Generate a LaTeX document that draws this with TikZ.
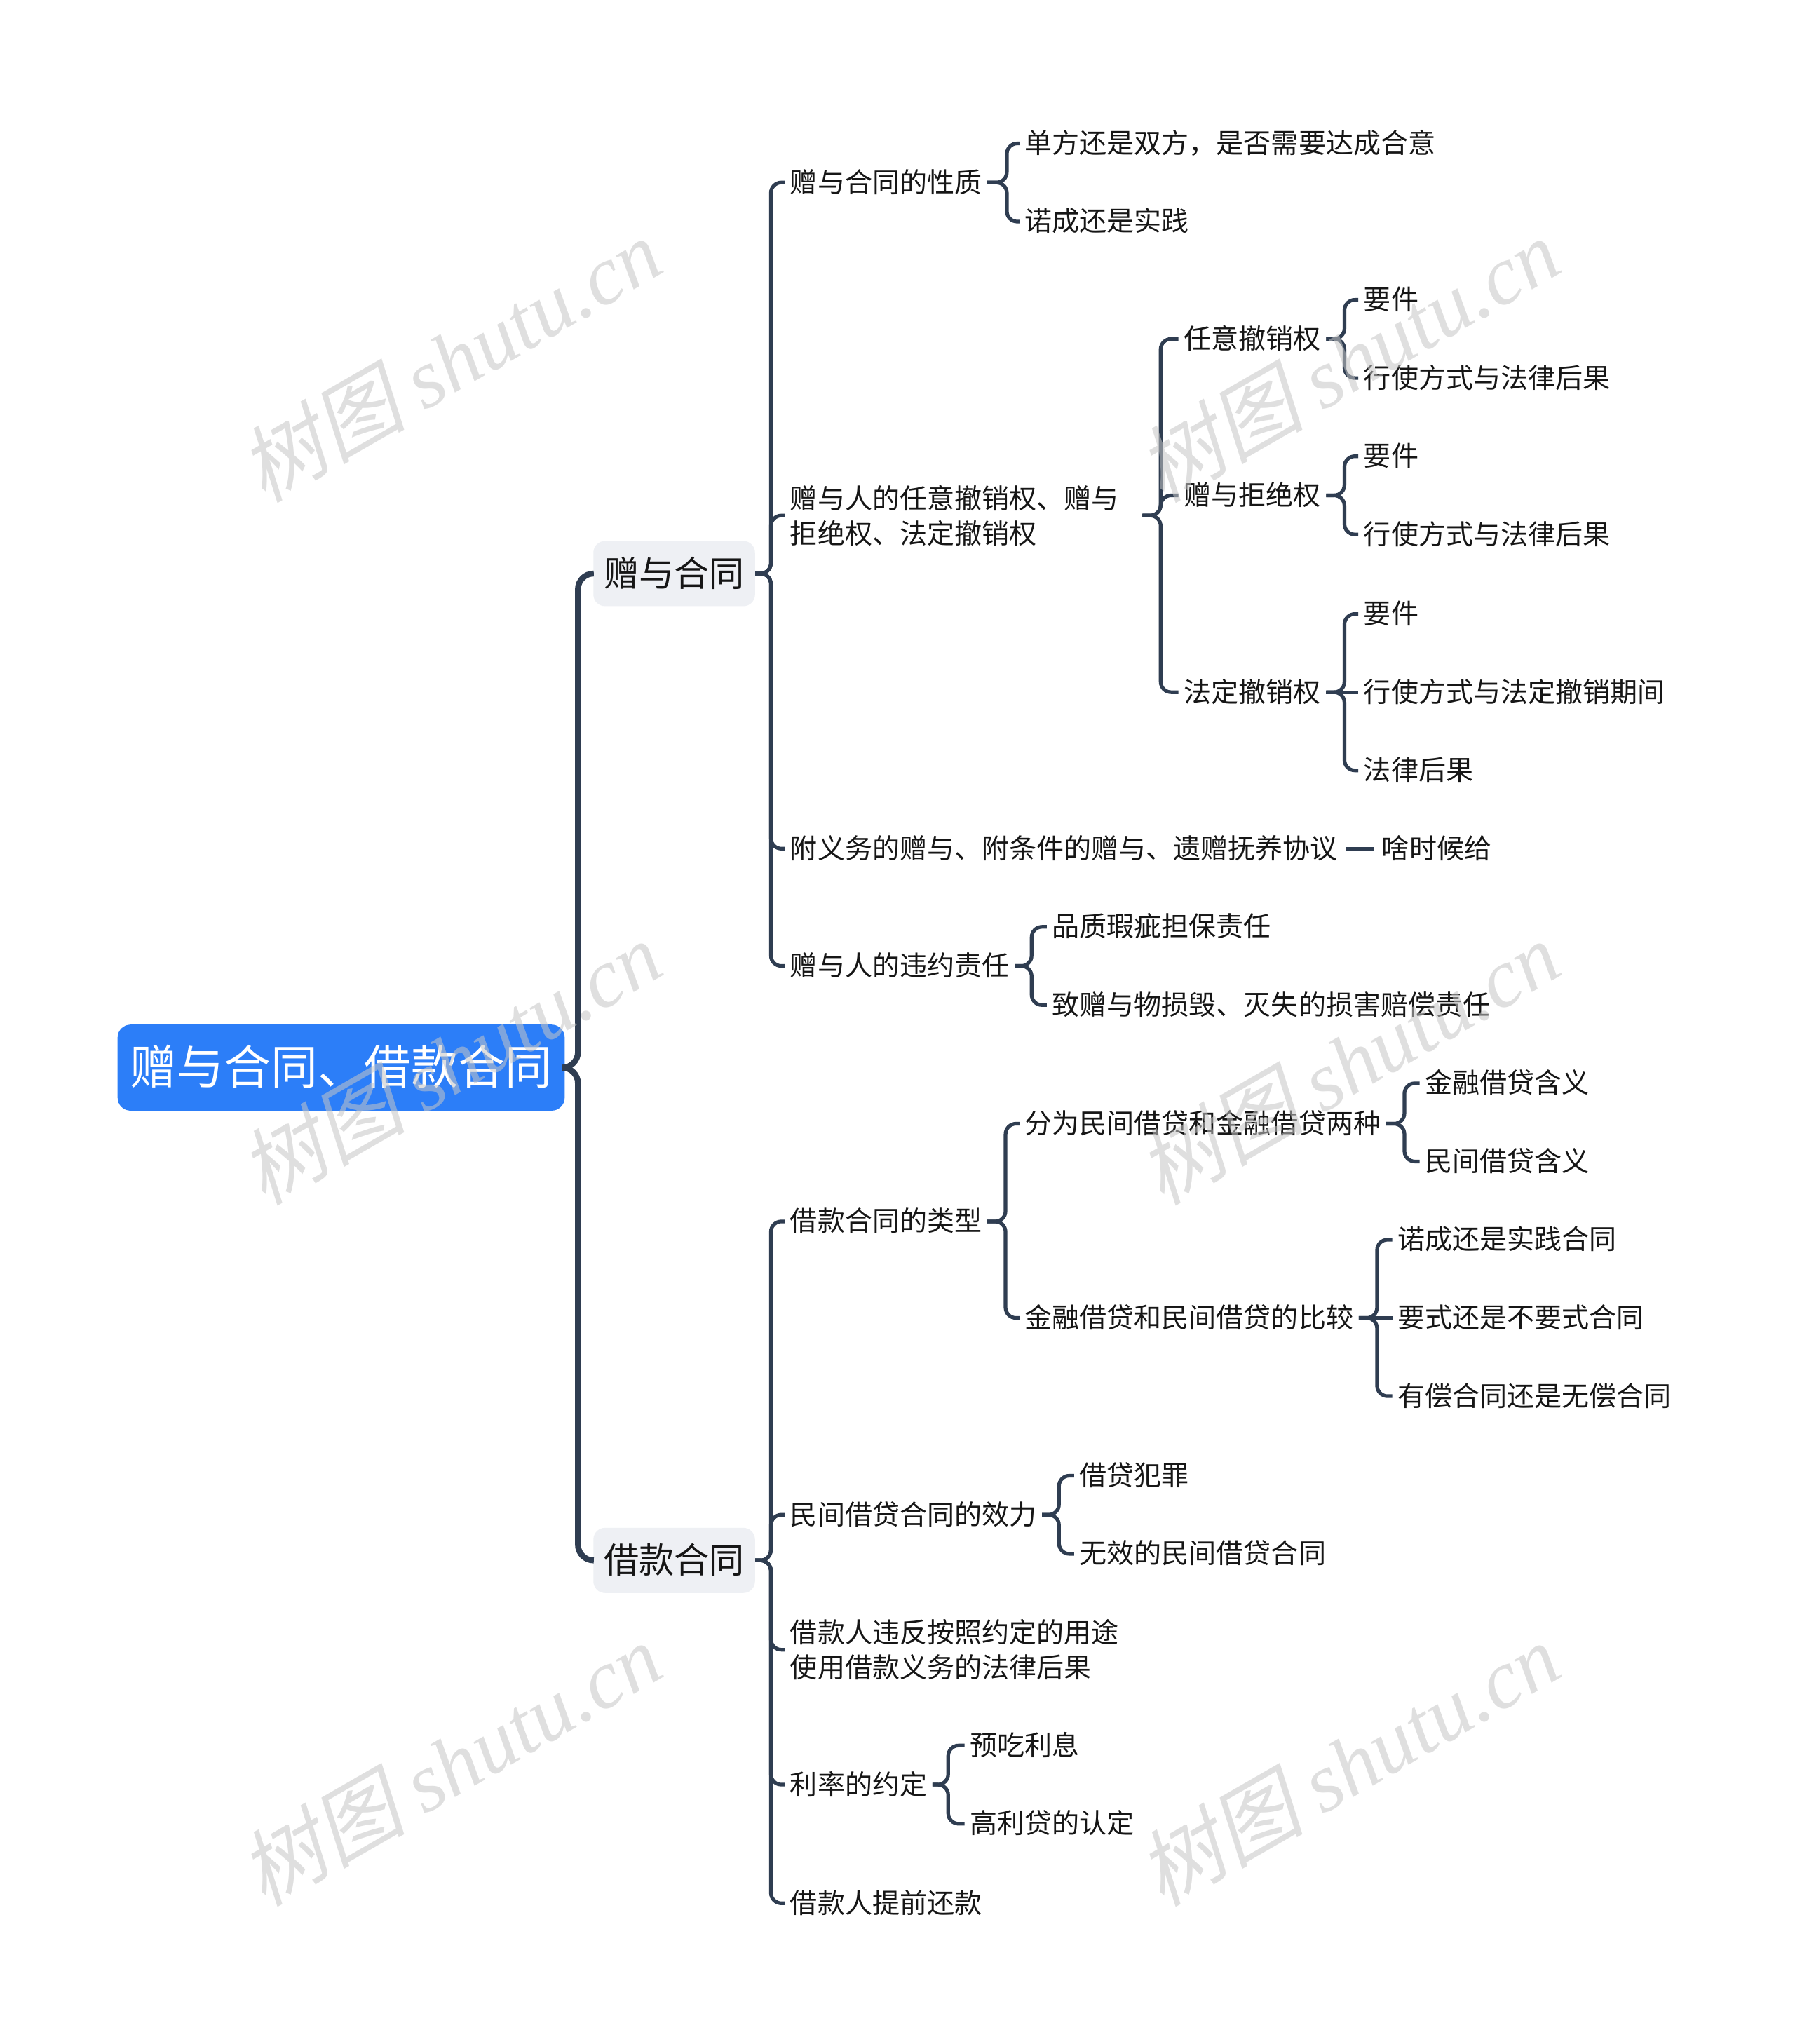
\documentclass[tikz,border=0pt]{standalone}
\usepackage{fontspec}
\setmainfont{Noto Sans CJK SC}
\newfontfamily\cjk{Noto Sans CJK SC}
\newfontfamily\wmcjk[FakeSlant=0.22]{Noto Sans CJK SC}
\newfontfamily\wmlat{Liberation Serif}
\definecolor{rootblue}{HTML}{2C7EF8}
\definecolor{lonefill}{HTML}{EEF0F4}
\definecolor{lnc}{HTML}{2F3D51}
\definecolor{txt}{HTML}{161616}
\newcommand\mmconn[3]{\draw[ln] (#1.east) -- ++(#3,0) |- (#2.west);}
\begin{document}
\begin{tikzpicture}[x=1pt,y=-1pt,
  t/.style={anchor=west, inner xsep=4pt, inner ysep=1pt, text=txt,
    font=\cjk\fontsize{21}{27}\selectfont, text height=17pt, text depth=2pt},
  tm/.style={anchor=west, inner xsep=4pt, inner ysep=1pt, text=txt, align=left,
    font=\cjk\fontsize{21}{27}\selectfont},
  rootnode/.style={anchor=west, fill=rootblue, text=white, rounded corners=10pt,
    font=\cjk\fontsize{36}{40}\selectfont, minimum height=66pt, inner xsep=9.5pt,
    text height=29pt, text depth=3pt},
  lone/.style={anchor=west, fill=lonefill, text=txt, rounded corners=9pt,
    font=\cjk\fontsize{27}{32}\selectfont, minimum height=50pt, inner xsep=8pt,
    text height=22pt, text depth=2pt},
  ln/.style={draw=lnc, line width=2.8pt, rounded corners=8pt},
  rootln/.style={draw=lnc, line width=4.5pt, rounded corners=12pt},
  wm/.style={text=gray!45, opacity=0.55, rotate=30, inner sep=0pt}
]
\useasboundingbox (0,0) rectangle (1377,1568);
\fill[white] (0,0) rectangle (1377,1568);

% root and level 1
\node[rootnode] (root) at (90,819) {赠与合同、借款合同};
\node[lone] (A) at (455,440) {赠与合同};
\node[lone] (B) at (455,1197) {借款合同};
\draw[rootln] (root.east) -- ++(10,0) |- (A.west);
\draw[rootln] (root.east) -- ++(10,0) |- (B.west);

% ---- 赠与合同 ----
\node[t] (a1) at (602,140) {赠与合同的性质};
\node[tm, text width=266pt] (a2) at (602,395.5) {赠与人的任意撤销权、赠与\\拒绝权、法定撤销权};
\node[t] (a3) at (602,651) {附义务的赠与、附条件的赠与、遗赠抚养协议};
\node[t] (a4) at (602,741) {赠与人的违约责任};
\mmconn{A}{a1}{12}
\mmconn{A}{a2}{12}
\mmconn{A}{a3}{12}
\mmconn{A}{a4}{12}

\node[t] (a11) at (782,110) {单方还是双方，是否需要达成合意};
\node[t] (a12) at (782,170) {诺成还是实践};
\mmconn{a1}{a11}{15}
\mmconn{a1}{a12}{15}

\node[t] (a21) at (904,260) {任意撤销权};
\node[t] (a22) at (904,380) {赠与拒绝权};
\node[t] (a23) at (904,531) {法定撤销权};
\mmconn{a2}{a21}{14}
\mmconn{a2}{a22}{14}
\mmconn{a2}{a23}{14}

\node[t] (a211) at (1042,230) {要件};
\node[t] (a212) at (1042,290) {行使方式与法律后果};
\mmconn{a21}{a211}{14}
\mmconn{a21}{a212}{14}

\node[t] (a221) at (1042,350) {要件};
\node[t] (a222) at (1042,410) {行使方式与法律后果};
\mmconn{a22}{a221}{14}
\mmconn{a22}{a222}{14}

\node[t] (a231) at (1042,471) {要件};
\node[t] (a232) at (1042,531) {行使方式与法定撤销期间};
\node[t] (a233) at (1042,591) {法律后果};
\mmconn{a23}{a231}{14}
\draw[ln] (a23.east) -- (a232.west);
\mmconn{a23}{a233}{14}

\node[t] (a31) at (1056,651) {啥时候给};
\draw[ln] ([xshift=2pt]a3.east) -- ([xshift=-2pt]a31.west);

\node[t] (a41) at (803,711) {品质瑕疵担保责任};
\node[t] (a42) at (803,771) {致赠与物损毁、灭失的损害赔偿责任};
\mmconn{a4}{a41}{13}
\mmconn{a4}{a42}{13}

% ---- 借款合同 ----
\node[t] (b1) at (602,937) {借款合同的类型};
\node[t] (b2) at (602,1162) {民间借贷合同的效力};
\node[tm] (b3) at (602,1265.5) {借款人违反按照约定的用途\\使用借款义务的法律后果};
\node[t] (b4) at (602,1369) {利率的约定};
\node[t] (b5) at (602,1460) {借款人提前还款};
\mmconn{B}{b1}{12}
\mmconn{B}{b2}{12}
\mmconn{B}{b3}{12}
\mmconn{B}{b4}{12}
\mmconn{B}{b5}{12}

\node[t] (b11) at (782,862) {分为民间借贷和金融借贷两种};
\node[t] (b12) at (782,1011) {金融借贷和民间借贷的比较};
\mmconn{b1}{b11}{14}
\mmconn{b1}{b12}{14}

\node[t] (b111) at (1089,831) {金融借贷含义};
\node[t] (b112) at (1089,891) {民间借贷含义};
\mmconn{b11}{b111}{14}
\mmconn{b11}{b112}{14}

\node[t] (b121) at (1068,951) {诺成还是实践合同};
\node[t] (b122) at (1068,1011) {要式还是不要式合同};
\node[t] (b123) at (1068,1071) {有偿合同还是无偿合同};
\mmconn{b12}{b121}{14}
\draw[ln] (b12.east) -- (b122.west);
\mmconn{b12}{b123}{14}

\node[t] (b21) at (824,1132) {借贷犯罪};
\node[t] (b22) at (824,1192) {无效的民间借贷合同};
\mmconn{b2}{b21}{13}
\mmconn{b2}{b22}{13}

\node[t] (b41) at (740,1339) {预吃利息};
\node[t] (b42) at (740,1399) {高利贷的认定};
\mmconn{b4}{b41}{12}
\mmconn{b4}{b42}{12}

% watermarks
\foreach \wx/\wy [count=\i] in {345/276, 1034/276, 345/815, 1034/815, 345/1353, 1034/1353}{
  \node[wm] (wm\i) at (\wx,\wy) {\fontsize{64}{68}\selectfont{\wmcjk 树图} {\wmlat\itshape shutu.cn}};
}
\end{tikzpicture}
\end{document}
